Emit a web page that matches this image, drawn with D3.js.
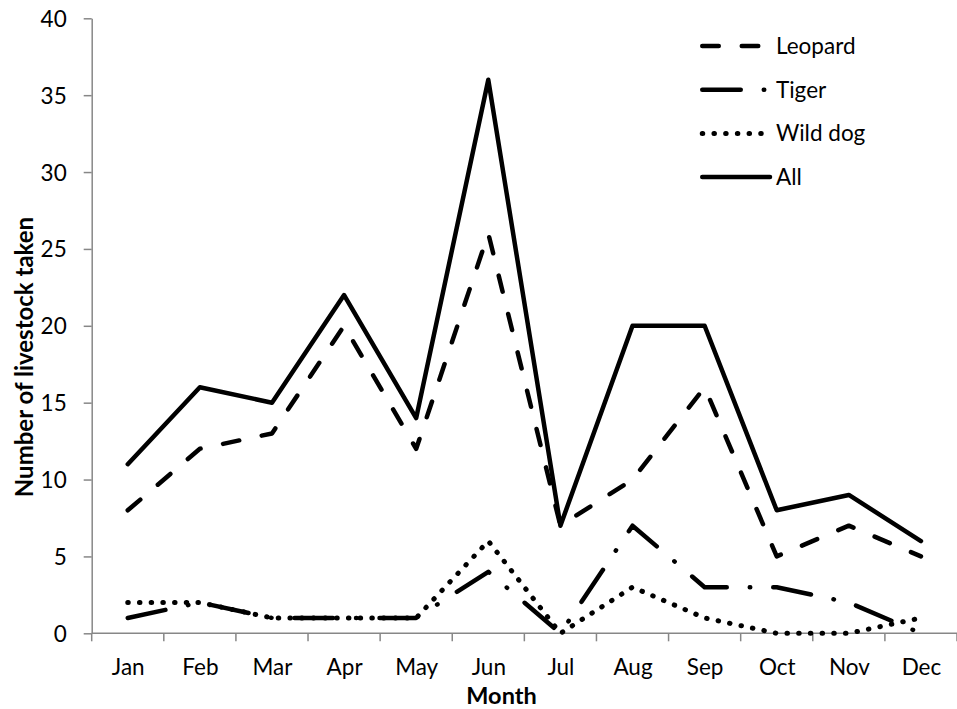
<!DOCTYPE html>
<html>
<head>
<meta charset="utf-8">
<script src="https://cdn.jsdelivr.net/npm/d3@7"></script>
<style>
  html, body { margin: 0; padding: 0; background: #fff; }
  svg { display: block; }
  text { font-family: Lato, "Open Sans", sans-serif; fill: #000; }
</style>
</head>
<body>
<svg id="chart" width="957" height="709"></svg>
<script>
const months = ["Jan","Feb","Mar","Apr","May","Jun","Jul","Aug","Sep","Oct","Nov","Dec"];
const leopard = [8,12,13,20,12,26,7,10,16,5,7,5];
const tiger   = [1,2,1,1,1,4,0,7,3,3,2,0];
const wildDog = [2,2,1,1,1,6,0,3,1,0,0,1];
const allLivestock = [11,16,15,22,14,36,7,20,20,8,9,6];
const yTicks = [0,5,10,15,20,25,30,35,40];
const seriesNames = ["Leopard","Tiger","Wild dog","All"];

const series = [
  { name: seriesNames[0], values: leopard, dash: "16.5,23", width: 4.5 },
  { name: seriesNames[1], values: tiger, dash: "38.5,23,0.5,23", width: 4.5 },
  { name: seriesNames[2], values: wildDog, dash: "0.5,11.2", width: 5 },
  { name: seriesNames[3], values: allLivestock, dash: null, width: 4.5 }
];

const svg = d3.select("#chart");
const plotLeft = 91.7, plotRight = 957, plotTop = 18.3, plotBottom = 633.3;
const axisColor = "#878787";
const labelSize = 22.5;

const x = d3.scalePoint().domain(months).range([plotLeft, plotRight]).padding(0.5);
const step = x.step();
const y = d3.scaleLinear().domain([0, 40]).range([plotBottom, plotTop]);

// Y axis
const yAxis = svg.append("g")
  .attr("transform", `translate(${plotLeft},0)`)
  .call(d3.axisLeft(y).tickValues(yTicks).tickSize(8).tickSizeOuter(0).tickPadding(17));
yAxis.select(".domain").attr("stroke", axisColor).attr("stroke-width", 1.5);
yAxis.selectAll(".tick line").attr("stroke", axisColor).attr("stroke-width", 1.5);
yAxis.selectAll(".tick text")
  .attr("font-family", "Lato, sans-serif").attr("font-size", labelSize)
  .attr("fill", "#000").attr("dy", null)
  .attr("y", 8);

// X axis (labels at category centers, ticks at boundaries)
const xAxis = svg.append("g")
  .attr("transform", `translate(0,${plotBottom})`)
  .call(d3.axisBottom(x).tickSize(0).tickSizeOuter(0).tickPadding(0));
xAxis.select(".domain").remove();
xAxis.selectAll(".tick text")
  .attr("font-family", "Lato, sans-serif").attr("font-size", labelSize)
  .attr("fill", "#000").attr("dy", null).attr("y", 42);
svg.append("line")
  .attr("x1", plotLeft).attr("x2", plotRight).attr("y1", plotBottom).attr("y2", plotBottom)
  .attr("stroke", axisColor).attr("stroke-width", 1.5);
const boundaries = months.map(m => x(m) - step / 2).concat([x(months[months.length - 1]) + step / 2]);
svg.append("g").selectAll("line").data(boundaries).join("line")
  .attr("x1", d => d).attr("x2", d => d)
  .attr("y1", plotBottom).attr("y2", plotBottom + 8)
  .attr("stroke", axisColor).attr("stroke-width", 1.5);

// Axis titles
svg.append("text")
  .attr("x", 501.5).attr("y", 704)
  .attr("text-anchor", "middle")
  .attr("font-size", 23.5).attr("font-weight", "bold")
  .text("Month");
svg.append("text")
  .attr("transform", "translate(33,357) rotate(-90)")
  .attr("text-anchor", "middle")
  .attr("font-size", 24).attr("font-weight", "bold")
  .text("Number of livestock taken");

// Lines
const line = d3.line()
  .x((d, i) => x(months[i]))
  .y(d => y(d));

svg.append("g").selectAll("path").data(series).join("path")
  .attr("d", s => line(s.values))
  .attr("fill", "none")
  .attr("stroke", "#000")
  .attr("stroke-width", s => s.width)
  .attr("stroke-linecap", "round")
  .attr("stroke-linejoin", "round")
  .attr("stroke-dasharray", s => s.dash);

// Legend
const legend = svg.append("g");
const legendY = i => 46 + i * 43.7;
legend.selectAll("line").data(series).join("line")
  .attr("x1", 702.25).attr("x2", 770)
  .attr("y1", (s, i) => legendY(i)).attr("y2", (s, i) => legendY(i))
  .attr("stroke", "#000")
  .attr("stroke-width", s => s.width)
  .attr("stroke-linecap", "round")
  .attr("stroke-dasharray", s => s.dash);
legend.selectAll("text").data(series).join("text")
  .attr("x", 776).attr("y", (s, i) => legendY(i) + 8)
  .attr("font-size", labelSize)
  .text(s => s.name);
</script>
</body>
</html>
